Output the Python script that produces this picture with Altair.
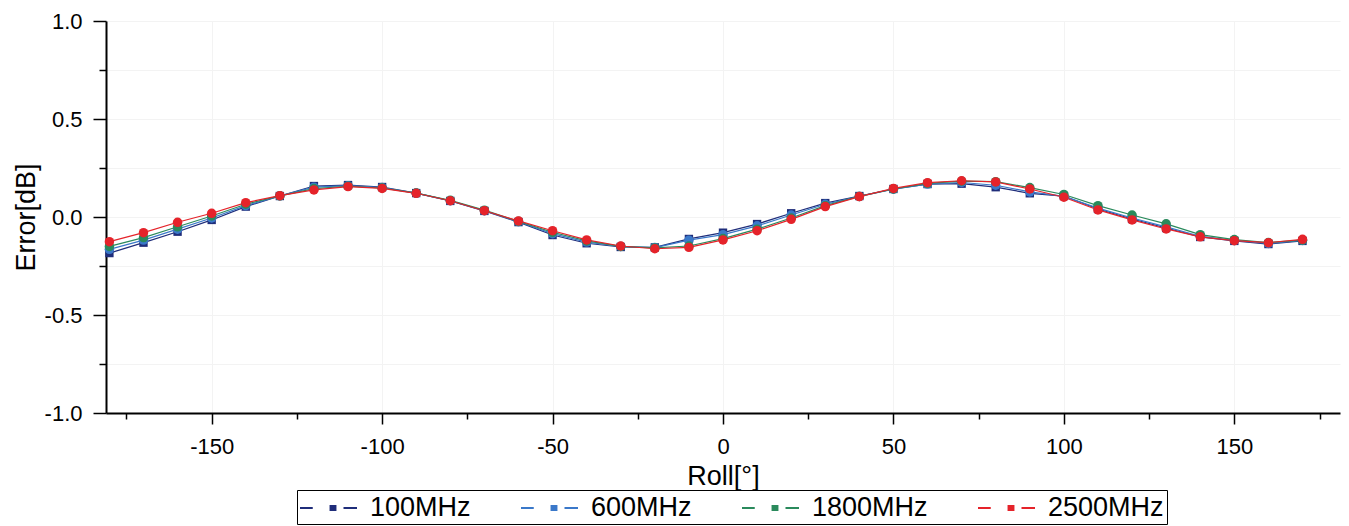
import altair as alt
import pandas as pd

roll = [-180, -170, -160, -150, -140, -130, -120, -110, -100, -90, -80, -70, -60, -50, -40, -30, -20, -10,
        0, 10, 20, 30, 40, 50, 60, 70, 80, 90, 100, 110, 120, 130, 140, 150, 160, 170]

err_100 = [-0.184, -0.131, -0.075, -0.015, 0.053, 0.107, 0.158, 0.163, 0.153, 0.122, 0.082, 0.031,
           -0.026, -0.092, -0.134, -0.153, -0.155, -0.112,
           -0.080, -0.036, 0.019, 0.071, 0.107, 0.143, 0.168, 0.170, 0.152, 0.121, 0.107, 0.041,
           -0.010, -0.056, -0.102, -0.122, -0.138, -0.122]
err_600 = [-0.165, -0.118, -0.062, -0.005, 0.058, 0.108, 0.152, 0.160, 0.150, 0.122, 0.083, 0.032,
           -0.024, -0.085, -0.128, -0.150, -0.156, -0.118,
           -0.090, -0.045, 0.010, 0.065, 0.105, 0.142, 0.168, 0.176, 0.162, 0.128, 0.105, 0.045,
           -0.005, -0.050, -0.098, -0.120, -0.135, -0.120]
err_1800 = [-0.150, -0.105, -0.050, 0.005, 0.065, 0.108, 0.145, 0.157, 0.148, 0.122, 0.085, 0.035,
            -0.022, -0.078, -0.122, -0.150, -0.158, -0.148,
            -0.110, -0.062, -0.005, 0.058, 0.105, 0.143, 0.172, 0.183, 0.180, 0.150, 0.115, 0.058,
            0.010, -0.035, -0.090, -0.115, -0.130, -0.118]
err_2500 = [-0.126, -0.080, -0.027, 0.019, 0.073, 0.109, 0.138, 0.155, 0.146, 0.121, 0.083, 0.032,
            -0.020, -0.070, -0.117, -0.148, -0.162, -0.155,
            -0.117, -0.070, -0.012, 0.053, 0.104, 0.146, 0.175, 0.185, 0.179, 0.143, 0.101, 0.036,
            -0.015, -0.061, -0.101, -0.121, -0.131, -0.114]

series_names = ["100MHz", "600MHz", "1800MHz", "2500MHz"]
series_colors = ["#1f2d7a", "#3a78c9", "#2a8a5c", "#e5232a"]

x_major = [-150, -100, -50, 0, 50, 100, 150]
x_minor = [-175, -125, -75, -25, 25, 75, 125, 175]
y_major = [-1.0, -0.5, 0.0, 0.5, 1.0]
y_minor = [-0.75, -0.25, 0.25, 0.75]

rows = []
for name, vals in zip(series_names, [err_100, err_600, err_1800, err_2500]):
    for r, v in zip(roll, vals):
        rows.append({"Roll": r, "Error": v, "Series": name})
df = pd.DataFrame(rows)

FONT = "Liberation Sans"
legend_path = ("M-1,-0.067L-0.15,-0.067L-0.15,0.067L-1,0.067Z "
               "M0.97,-0.2L1.43,-0.2L1.43,0.2L0.97,0.2Z "
               "M1.9,-0.067L2.8,-0.067L2.8,0.067L1.9,0.067Z")

xscale = alt.Scale(domain=[-181, 181], nice=False, zero=False)
yscale = alt.Scale(domain=[-1, 1], nice=False, zero=False)
cscale = alt.Scale(domain=series_names, range=series_colors)

legend = alt.Legend(orient="none", legendX=191, legendY=469, direction="horizontal",
                    columns=4, title=None, symbolType=legend_path, symbolSize=900,
                    symbolStrokeWidth=0, labelFontSize=27, labelFont=FONT,
                    labelColor="black", labelOffset=40, columnPadding=50,
                    padding=3, strokeColor="black", fillColor="white")

x_lbl = "datum.value < 0 ? '-' + format(-datum.value, 'd') : format(datum.value, 'd')"
y_lbl = "datum.value < 0 ? '-' + format(-datum.value, '.1f') : format(datum.value, '.1f')"

base = alt.Chart(df)
color_enc = alt.Color("Series:N", scale=cscale, legend=legend)

lines = base.mark_line(strokeWidth=1.2).encode(
    x=alt.X("Roll:Q", scale=xscale,
            axis=alt.Axis(values=x_minor, labels=False, tickSize=6, domain=False, grid=False,
                          title=None, orient="bottom")),
    y=alt.Y("Error:Q", scale=yscale,
            axis=alt.Axis(values=y_minor, labels=False, tickSize=7, domain=False, grid=True,
                          gridColor="#f3f3f3", title=None, orient="left")),
    color=color_enc,
    detail="Series:N",
)

x_main = alt.X("Roll:Q", scale=xscale,
               axis=alt.Axis(values=x_major, labelExpr=x_lbl, tickSize=11, labelPadding=12, labelFontSize=22,
                             title="Roll[°]", titleFontSize=27, titlePadding=6, titleFontWeight="normal",
                             grid=True, gridColor="#f3f3f3", orient="bottom"))
y_main = alt.Y("Error:Q", scale=yscale,
               axis=alt.Axis(values=y_major, labelExpr=y_lbl, tickSize=13, labelPadding=11, labelFontSize=22,
                             title="Error[dB]", titleFontSize=27, titlePadding=4, titleFontWeight="normal",
                             grid=True, gridColor="#f3f3f3", orient="left"))

squares = base.transform_filter(alt.datum.Series == "100MHz").mark_square(size=70, opacity=1).encode(
    x=x_main, y=y_main, color=color_enc,
)
circles = base.transform_filter(alt.datum.Series != "100MHz").mark_circle(size=90, opacity=1).encode(
    x=alt.X("Roll:Q", scale=xscale, axis=None),
    y=alt.Y("Error:Q", scale=yscale, axis=None),
    color=color_enc,
)

chart = alt.layer(lines, squares, circles).resolve_axis(x="independent", y="independent").properties(
    width=1234, height=392,
    padding={"left": 106, "top": 21, "right": 9, "bottom": 113},
    autosize=alt.AutoSizeParams(type="none"),
).configure_view(stroke=None).configure_axis(
    domainColor="black", domainWidth=2, tickColor="black", tickWidth=1.5,
    labelFont=FONT, titleFont=FONT, labelColor="black", titleColor="black",
)

chart.save("out.html", embed_options={"renderer": "svg", "actions": False})
